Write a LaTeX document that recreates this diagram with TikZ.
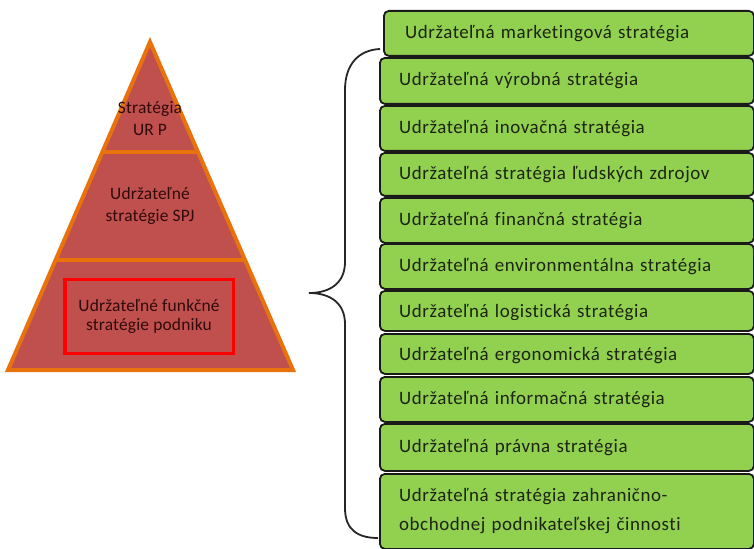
\documentclass[tikz,border=0pt]{standalone}
\usepackage{fontspec}
\setmainfont{Carlito}[Ligatures={NoCommon}]
\newfontfamily\boxfont{Carlito}[Ligatures={NoCommon},LetterSpace=3,WordSpace=1.3]
\newfontfamily\pyrfont{Carlito}[Ligatures={NoCommon},LetterSpace=1]
\definecolor{pyrfill}{HTML}{C0504D}
\definecolor{pyrline}{HTML}{E8730C}
\definecolor{boxfill}{HTML}{92D050}
\definecolor{boxline}{HTML}{1A1A1A}
\definecolor{pyrtext}{HTML}{300A0A}
\definecolor{boxtext}{HTML}{1C2412}
\begin{document}
\begin{tikzpicture}[x=1bp,y=-1bp,
  gbox/.style={draw=boxline, fill=boxfill, line width=1.8bp, rounded corners=5bp,
    anchor=north west, inner sep=0pt, minimum width=374bp},
  btext/.style={anchor=west, inner sep=0pt, text=boxtext,
    font=\boxfont\fontsize{19}{29}\selectfont, align=left},
  ptext/.style={inner sep=0pt, text=pyrtext, align=center,
    font=\pyrfont\fontsize{17.5}{22}\selectfont},
  pline/.style={draw=pyrline, line width=4bp},
  bracepath/.style={draw=black!85, line width=1.8bp}]
\useasboundingbox (0,0) rectangle (754,549);
\clip (0,0) rectangle (754,549);
% pyramid
\coordinate (apex) at (150,42);
\coordinate (bl) at (8,370);
\coordinate (br) at (293,370);
\fill[pyrfill] (apex) -- (br) -- (bl) -- cycle;
\draw[pline, line join=miter] (apex) -- (br) -- (bl) -- cycle;
\draw[pline] (102,152) -- (198,152);
\draw[pline] (55,260) -- (245,260);
\node[ptext] (p1) at (150,119) {Stratégia\\UR P};
\node[ptext] (p2) at (150,206) {Udržateľné\\stratégie SPJ};
\node[draw=red, line width=3bp, minimum width=168bp, minimum height=73bp, inner sep=0pt] (red) at (149,316.5) {};
\node[ptext, font=\pyrfont\fontsize{17.5}{19}\selectfont] (p3) at (red.center) {Udržateľné funkčné\\stratégie podniku};
% boxes
\node[gbox, minimum height=45bp, minimum width=370bp] (b1) at (383,10) {};
\node[btext] (t1) at ([xshift=22bp]b1.west) {Udržateľná marketingová stratégia};
\node[gbox, minimum height=46bp] (b2) at (379,57) {};
\node[btext] (t2) at ([xshift=20bp]b2.west) {Udržateľná výrobná stratégia};
\node[gbox, minimum height=45bp] (b3) at (379,105) {};
\node[btext] (t3) at ([xshift=20bp]b3.west) {Udržateľná inovačná stratégia};
\node[gbox, minimum height=43bp] (b4) at (379,152) {};
\node[btext] (t4) at ([xshift=20bp]b4.west) {Udržateľná stratégia ľudských zdrojov};
\node[gbox, minimum height=45bp] (b5) at (379,197) {};
\node[btext] (t5) at ([xshift=20bp]b5.west) {Udržateľná finančná stratégia};
\node[gbox, minimum height=45bp] (b6) at (379,243) {};
\node[btext] (t6) at ([xshift=20bp]b6.west) {Udržateľná environmentálna stratégia};
\node[gbox, minimum height=40bp] (b7) at (379,290) {};
\begin{scope}
\clip (379,290) rectangle (754,319);
\node[btext] (t7) at ([xshift=20bp,yshift=-2bp]b7.west) {Udržateľná logistická stratégia};
\end{scope}
\node[gbox, minimum height=40bp] (b8) at (379,333) {};
\begin{scope}
\clip (379,333) rectangle (754,363);
\node[btext] (t8) at ([xshift=20bp,yshift=-2bp]b8.west) {Udržateľná ergonomická stratégia};
\end{scope}
\node[gbox, minimum height=45bp] (b9) at (379,376) {};
\node[btext] (t9) at ([xshift=20bp]b9.west) {Udržateľná informačná stratégia};
\node[gbox, minimum height=47bp] (b10) at (379,423) {};
\node[btext] (t10) at ([xshift=20bp]b10.west) {Udržateľná právna stratégia};
\node[gbox, minimum height=75bp] (b11) at (379,473) {};
\node[btext] (t11) at ([xshift=20bp]b11.west) {Udržateľná stratégia zahranično-\\obchodnej podnikateľskej činnosti};
% brace
\coordinate (bt) at (380,49);
\coordinate (tip) at (309,293);
\coordinate (bb) at (378,538);
\draw[bracepath] (bt) .. controls (358,50) and (345,65) .. (345,90) -- (345,262)
  .. controls (345,283) and (330,293) .. (tip)
  .. controls (330,293) and (345,303) .. (345,324) -- (345,508)
  .. controls (345,530) and (358,538) .. (bb);
\end{tikzpicture}
\end{document}
